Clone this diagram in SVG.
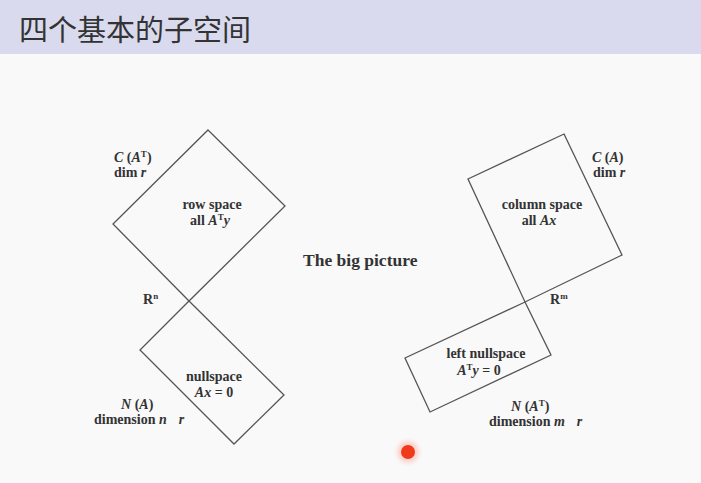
<svg xmlns="http://www.w3.org/2000/svg" width="701" height="483" viewBox="0 0 701 483">
<defs>
<style>
.shape{fill:none;stroke:#555;stroke-width:1.3}
.lbl{font-family:"Liberation Serif",serif;font-size:14px;font-weight:bold;fill:#333}
.it{font-style:italic}
.sup{font-size:9px}
.big{font-size:17.5px}
.title{font-family:"Noto Sans CJK SC",sans-serif;font-size:29px;fill:#333}
</style>
<radialGradient id="glow" cx="0.5" cy="0.5" r="0.5">
<stop offset="0" stop-color="#ff5a3c" stop-opacity="0.5"/>
<stop offset="0.6" stop-color="#ff8a7a" stop-opacity="0.25"/>
<stop offset="1" stop-color="#ffffff" stop-opacity="0"/>
</radialGradient>
</defs>
<rect width="701" height="483" fill="#f9f9f9"/>
<rect width="701" height="54" fill="#dadaee"/>
<text class="title" x="19" y="41">四个基本的子空间</text>

<g id="row-space">
<polygon class="shape" points="208,130 285,206 189,301 113,224"/>
<text class="lbl" x="212" y="209" text-anchor="middle">row space</text>
<text class="lbl" x="210" y="225" text-anchor="middle">all <tspan class="it">A</tspan><tspan dy="-5" class="sup">T</tspan><tspan dy="5" class="it">y</tspan></text>
</g>
<g id="nullspace">
<polygon class="shape" points="189,301 284,395 234,444 140,350"/>
<text class="lbl" x="214" y="381" text-anchor="middle">nullspace</text>
<text class="lbl" x="214" y="397" text-anchor="middle"><tspan class="it">Ax</tspan> = 0</text>
</g>
<g id="column-space">
<polygon class="shape" points="564,134 622,255 525,302 468,179"/>
<text class="lbl" x="542" y="209" text-anchor="middle">column space</text>
<text class="lbl" x="539" y="225" text-anchor="middle">all <tspan class="it">Ax</tspan></text>
</g>
<g id="left-nullspace">
<polygon class="shape" points="525,302 551,355 430,412 405,358"/>
<text class="lbl" x="486" y="358" text-anchor="middle">left nullspace</text>
<text class="lbl" x="479" y="375" text-anchor="middle"><tspan class="it">A</tspan><tspan dy="-5" class="sup">T</tspan><tspan dy="5" class="it">y</tspan> = 0</text>
</g>

<g id="labels">
<text class="lbl" x="114" y="162"><tspan class="it">C</tspan> (<tspan class="it">A</tspan><tspan dy="-5" class="sup">T</tspan><tspan dy="5">)</tspan></text>
<text class="lbl" x="114" y="177">dim <tspan class="it">r</tspan></text>
<text class="lbl" x="143" y="304">R<tspan dy="-5" class="sup">n</tspan></text>
<text class="lbl" x="121" y="409"><tspan class="it">N</tspan> (<tspan class="it">A</tspan>)</text>
<text class="lbl" x="94" y="424">dimension <tspan class="it">n</tspan><tspan class="it" dx="12">r</tspan></text>
<text class="lbl big" x="303" y="266">The big picture</text>
<text class="lbl" x="592" y="162"><tspan class="it">C</tspan> (<tspan class="it">A</tspan>)</text>
<text class="lbl" x="593" y="177">dim <tspan class="it">r</tspan></text>
<text class="lbl" x="550" y="304">R<tspan dy="-5" class="sup">m</tspan></text>
<text class="lbl" x="511" y="411"><tspan class="it">N</tspan> (<tspan class="it">A</tspan><tspan dy="-5" class="sup">T</tspan><tspan dy="5">)</tspan></text>
<text class="lbl" x="489" y="426">dimension <tspan class="it">m</tspan><tspan class="it" dx="12">r</tspan></text>
</g>

<g id="pointer">
<circle cx="408" cy="452" r="16" fill="url(#glow)"/>
<circle cx="408" cy="452" r="7" fill="#f03a1c"/>
</g>
</svg>
